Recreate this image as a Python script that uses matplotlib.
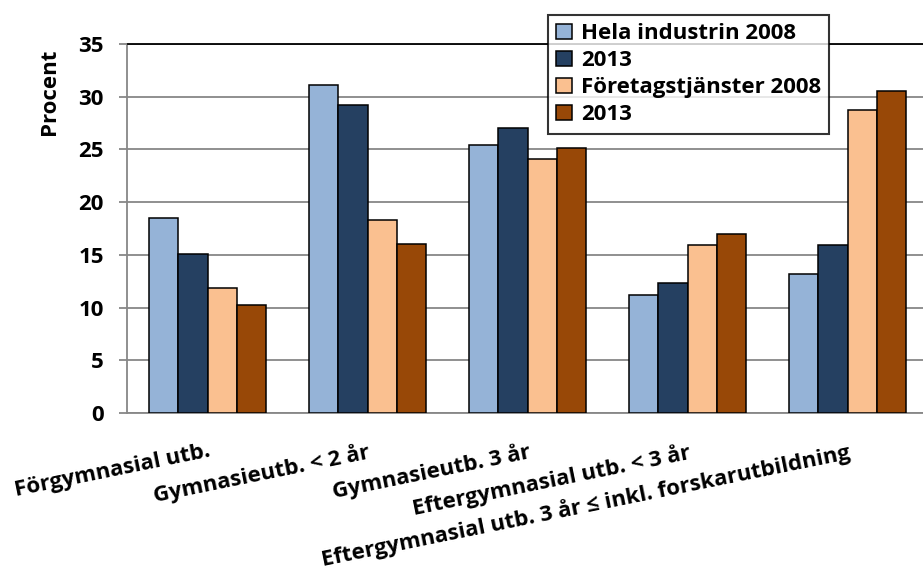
import matplotlib.pyplot as plt
import numpy as np

# Data
categories = [
    "Förgymnasial utb.",
    "Gymnasieutb. < 2 år",
    "Gymnasieutb. 3 år",
    "Eftergymnasial utb. < 3 år",
    "Eftergymnasial utb. 3 år ≤ inkl. forskarutbildning",
]
series_labels = ["Hela industrin 2008", "2013", "Företagstjänster 2008", "2013"]
industri_2008 = [18.5, 31.1, 25.4, 11.2, 13.2]
industri_2013 = [15.1, 29.2, 27.0, 12.3, 15.9]
tjanster_2008 = [11.9, 18.3, 24.1, 15.9, 28.7]
tjanster_2013 = [10.2, 16.0, 25.1, 17.0, 30.5]
colors = ["#95B3D7", "#254061", "#FAC090", "#984807"]
yticks = [0, 5, 10, 15, 20, 25, 30, 35]

FS = 16
plt.rcParams['font.family'] = ['Open Sans', 'DejaVu Sans']
plt.rcParams['font.weight'] = 'bold'

fig = plt.figure(figsize=(9.23, 5.73), dpi=100)
ax = fig.add_axes([127.5 / 923, 1 - 413 / 573, 800 / 923, 369 / 573])

x = np.arange(len(categories))
width = 0.183
all_series = [industri_2008, industri_2013, tjanster_2008, tjanster_2013]
for i, vals in enumerate(all_series):
    ax.bar(x + (i - 1.5) * width, vals, width, color=colors[i],
           edgecolor='black', linewidth=1.1, label=series_labels[i], zorder=3)

ax.set_xlim(-0.5, 4.5)
ax.set_ylim(0, 35)
ax.set_yticks(yticks)
ax.set_yticklabels([str(v) for v in yticks], fontsize=FS, fontweight='bold')
ax.yaxis.grid(True, color='#878787', linewidth=1.3, zorder=0)
ax.set_axisbelow(True)

ax.set_xticks(x)
ax.set_xticklabels(categories, fontsize=FS, fontweight='bold', rotation=11.5,
                   ha='right', rotation_mode='anchor', va='top')
ax.tick_params(axis='x', length=0, pad=20)
ax.tick_params(axis='y', length=6, width=1.3, color='#878787', pad=11)

ax.spines['right'].set_visible(False)
ax.spines['top'].set_color('black')
ax.spines['top'].set_linewidth(1.3)
ax.spines['left'].set_color('#878787')
ax.spines['left'].set_linewidth(1.3)
ax.spines['bottom'].set_color('#878787')
ax.spines['bottom'].set_linewidth(1.3)

ax.set_ylabel("Procent", fontsize=FS, fontweight='bold')
ax.yaxis.set_label_coords(-0.084, 0.87)

leg = ax.legend(loc='upper left', bbox_to_anchor=(548 / 923, 1 - 15 / 573),
                bbox_transform=fig.transFigure, fontsize=FS, frameon=True,
                fancybox=False, edgecolor='black', handlelength=0.7,
                handleheight=0.7, handletextpad=0.4, labelspacing=0.27,
                borderpad=0.38, borderaxespad=0)
leg.get_frame().set_linewidth(1.5)
for t in leg.get_texts():
    t.set_fontweight('bold')

fig.savefig("out.png", dpi=100)
